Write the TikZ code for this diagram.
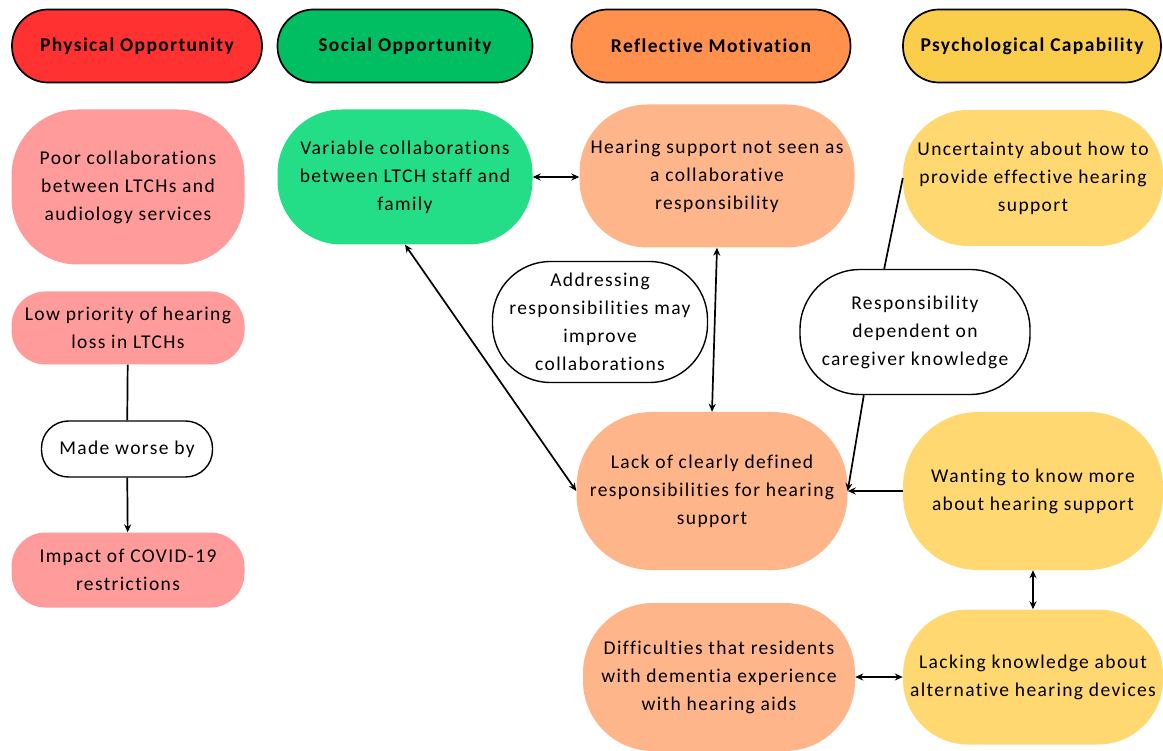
\documentclass[tikz,border=0pt]{standalone}
\usepackage{fontspec}
\setmainfont{Carlito}[LetterSpace=7, Ligatures=NoCommon]
\usetikzlibrary{arrows.meta}

\definecolor{physred}{HTML}{FF3131}
\definecolor{socgreen}{HTML}{00BF63}
\definecolor{refor}{HTML}{FF914D}
\definecolor{psyyel}{HTML}{FACD4B}
\definecolor{physlt}{HTML}{FF9B9B}
\definecolor{soclt}{HTML}{24DE87}
\definecolor{reflt}{HTML}{FFB58A}
\definecolor{psylt}{HTML}{FFD872}

\tikzset{
    head/.style={draw=black, line width=1.7pt, rounded corners=36pt,
        minimum height=73pt, font=\fontsize{19.5}{28}\selectfont\bfseries},
    box/.style={align=center, inner sep=0pt,
        font=\fontsize{19.5}{28}\selectfont},
    note/.style={box, draw=black, line width=1.4pt, fill=white},
    link/.style={line width=1.7pt},
    both/.style={link, {Stealth[length=8pt,width=7pt]}-{Stealth[length=8pt,width=7pt]}},
    one/.style={link, -{Stealth[length=8pt,width=7pt]}}
}

\begin{document}
\begin{tikzpicture}[x=1pt,y=-1pt]
    \useasboundingbox (0,0) rectangle (1163,751);

    % column headers
    \foreach \n/\x/\w/\c/\t in {
        phys/137/250/physred/Physical Opportunity,
        soc/405/255/socgreen/Social Opportunity,
        refl/711/279/refor/Reflective Motivation,
        psy/1032/258/psyyel/Psychological Capability
    }
    {
        \node[head, fill=\c, minimum width=\w pt] (h\n) at (\x,46) {\t};
    }

    % physical opportunity
    \node[box, fill=physlt, rounded corners=66pt, minimum width=233pt, minimum height=155pt]
        (poor) at (128,187) {Poor collaborations\\between LTCHs and\\audiology services};
    \node[box, fill=physlt, rounded corners=34pt, minimum width=233pt, minimum height=73pt]
        (low) at (128,328) {Low priority of hearing\\loss in LTCHs};
    \node[note, rounded corners=27pt, minimum width=171pt, minimum height=56pt]
        (worse) at (127,449) {Made worse by};
    \node[box, fill=physlt, rounded corners=34pt, minimum width=233pt, minimum height=75pt]
        (covid) at (128,570) {Impact of COVID-19\\restrictions};

    % social opportunity
    \node[box, fill=soclt, rounded corners=64pt, minimum width=255pt, minimum height=135pt]
        (var) at (405,177) {Variable collaborations\\between LTCH staff and\\family};

    % reflective motivation
    \node[box, fill=reflt, rounded corners=68pt, minimum width=275pt, minimum height=143pt]
        (hsup) at (717,176) {Hearing support not seen as\\a collaborative\\responsibility};
    \node[box, fill=reflt, rounded corners=75pt, minimum width=271pt, minimum height=158pt]
        (lack) at (712,491) {Lack of clearly defined\\responsibilities for hearing\\support};
    \node[box, fill=reflt, rounded corners=70pt, minimum width=272pt, minimum height=148pt]
        (diff) at (719,677) {Difficulties that residents\\with dementia experience\\with hearing aids};

    % psychological capability
    \node[box, fill=psylt, rounded corners=65pt, minimum width=260pt, minimum height=136pt]
        (unc) at (1033,178) {Uncertainty about how to\\provide effective hearing\\support};
    \node[box, fill=psylt, rounded corners=75pt, minimum width=260pt, minimum height=158pt]
        (want) at (1033,491) {Wanting to know more\\about hearing support};
    \node[box, fill=psylt, rounded corners=65pt, minimum width=260pt, minimum height=135pt]
        (lkn) at (1033,677) {Lacking knowledge about\\alternative hearing devices};

    % linking notes
    \node[note, rounded corners=58pt, minimum width=215pt, minimum height=121pt]
        (addr) at (600,322) {Addressing\\responsibilities may\\improve\\collaborations};
    \node[note, rounded corners=60pt, minimum width=230pt, minimum height=125pt]
        (resp) at (915,332) {Responsibility\\dependent on\\caregiver knowledge};

    % connectors
    \draw[link] (low) -- (worse);
    \draw[one] (worse) -- (covid);
    \draw[both] (var.east) -- (var.east -| hsup.west);
    \draw[both] (var.south) -- (lack.west);
    \draw[both] (hsup.south) -- (lack.north);
    \draw[link] (unc.west) -- (resp.116);
    \draw[one] (resp.231) -- (lack.east);
    \draw[one] (want.west) -- (lack.east);
    \draw[both] (want.south) -- (lkn.north);
    \draw[both] (diff.east) -- (diff.east -| lkn.west);
\end{tikzpicture}
\end{document}
